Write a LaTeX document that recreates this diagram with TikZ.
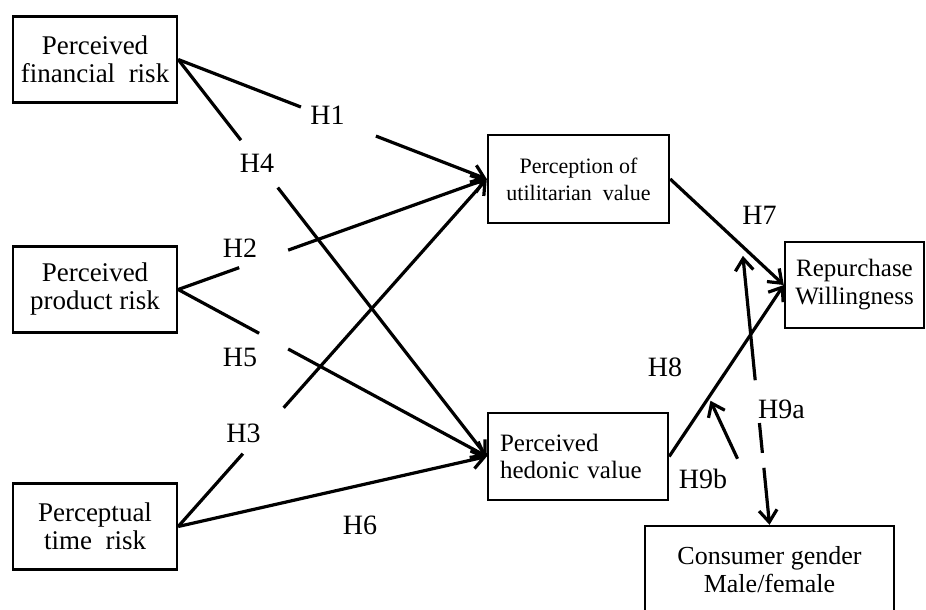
\documentclass[tikz,border=0pt]{standalone}
\usepackage{fontspec}
\setmainfont{Liberation Serif}
\usetikzlibrary{arrows.meta, calc}

\begin{document}
\begin{tikzpicture}[x=0.5pt, y=-0.5pt,
  box/.style={draw, line width=1.2pt, align=center, inner sep=2pt,
              font=\fontsize{13.5}{14}\selectfont},
  riskbox/.style={box, minimum width=82pt, minimum height=43pt},
  hyp/.style={font=\fontsize{14}{14}\selectfont, inner sep=1pt},
  link/.style={line width=1.6pt, -{Straight Barb[length=6pt, width=9pt]}},
  gapped/.style 2 args={link, dash pattern=on #1 off #2 on 400pt}
]
  \useasboundingbox (0,0) rectangle (926,610);

  % ── risk constructs ─────────────────────────────────────────────────────
  \node[riskbox] (fin)  at (95,59.5)  {Perceived\\financial~ risk};
  \node[riskbox] (prod) at (95,289.5) {Perceived\\product risk};
  \node[riskbox] (time) at (95,526.5) {Perceptual\\time~ risk};

  % ── value constructs ────────────────────────────────────────────────────
  \node[box, minimum width=90.5pt, minimum height=44pt,
        font=\fontsize{11}{13.5}\selectfont] (util) at (578.5,179) {Perception of\\utilitarian~ value};
  \node[box, minimum width=90pt, minimum height=43.5pt, text width=78pt, align=left,
        font=\fontsize{12.5}{13.5}\selectfont] (hed) at (578,456.5) {Perceived\\hedonic value};

  % ── outcome and moderator ───────────────────────────────────────────────
  \node[box, minimum width=69.5pt, minimum height=43pt,
        font=\fontsize{12.5}{14}\selectfont] (rep) at (854.5,285) {Repurchase\\Willingness};
  \node[box, minimum width=124.5pt, minimum height=44pt,
        font=\fontsize{13}{14}\selectfont] (gen) at (769.5,570) {Consumer gender\\Male/female};

  % ── hypothesis labels ───────────────────────────────────────────────────
  \node[hyp] (h1)  at (327.5,115) {H1};
  \node[hyp] (h4)  at (257,163)   {H4};
  \node[hyp] (h2)  at (240,248)   {H2};
  \node[hyp] (h5)  at (240,357)   {H5};
  \node[hyp] (h3)  at (243.5,433) {H3};
  \node[hyp] (h6)  at (360,525)   {H6};
  \node[hyp] (h7)  at (759.5,215) {H7};
  \node[hyp] (h8)  at (665,367)   {H8};
  \node[hyp] (h9a) at (781.5,409) {H9a};
  \node[hyp] (h9b) at (703,479)   {H9b};

  % ── paths ───────────────────────────────────────────────────────────────
  \draw[gapped={65.8pt}{40.2pt}] (fin.east)  -- (util.west);  % H1
  \draw[gapped={51.1pt}{30pt}]   (fin.east)  -- (hed.west);   % H4
  \draw[gapped={32.4pt}{26pt}]   (prod.east) -- (util.west);  % H2
  \draw[gapped={46pt}{16.5pt}]   (prod.east) -- (hed.west);   % H5
  \draw[gapped={48.7pt}{30.7pt}] (time.east) -- (util.west);  % H3
  \draw[link] (time.east) -- (hed.west);                      % H6
  \draw[link] (util.east) -- coordinate[pos=0.64] (m7) (rep.west);  % H7
  \draw[link] (hed.east)  -- coordinate[pos=0.36] (m8) (rep.west);  % H8

  % ── moderation ──────────────────────────────────────────────────────────
  \draw[line width=1.6pt, {Straight Barb[length=6pt, width=9pt]}-{Straight Barb[length=6pt, width=9pt]},
        dash pattern=on 26.5pt off 7.5pt on 15pt off 21.5pt on 200pt]
        (gen.north) -- ($(m7)+(0,9)$);                      % H9a
  \draw[link] ($(h9b.north east)+(8,-8)$) -- ($(m8)+(0,6)$); % H9b
\end{tikzpicture}
\end{document}
